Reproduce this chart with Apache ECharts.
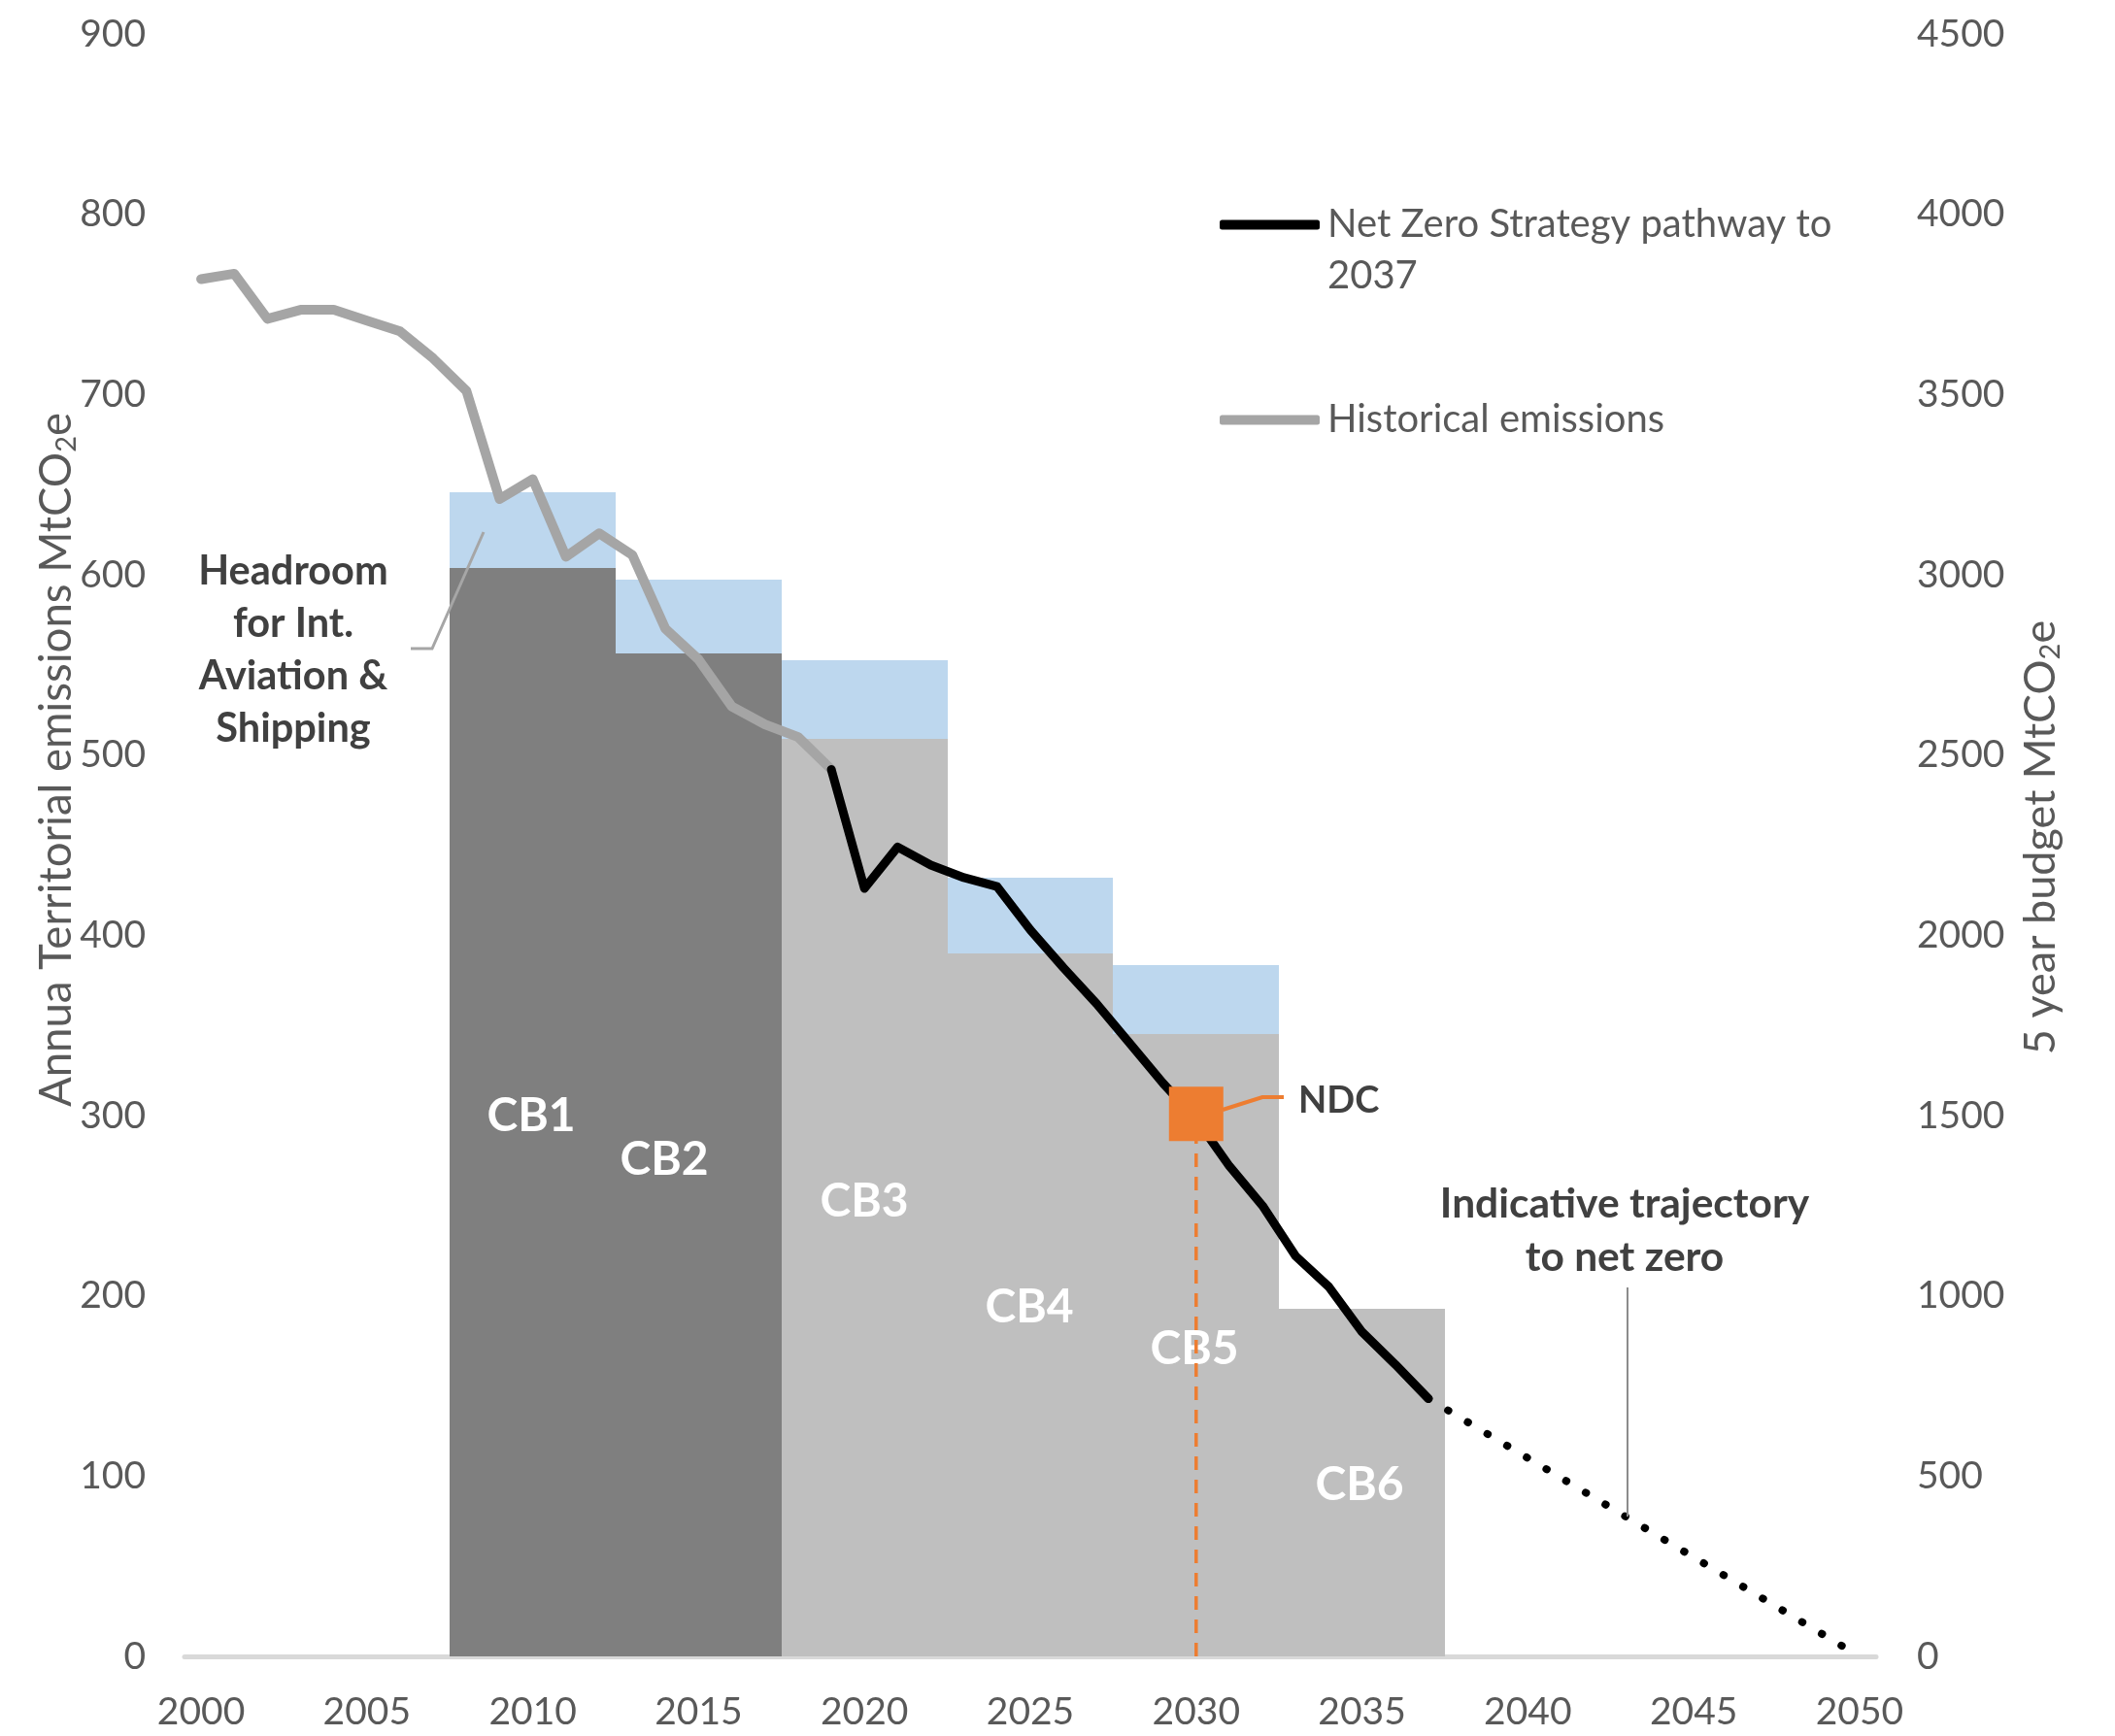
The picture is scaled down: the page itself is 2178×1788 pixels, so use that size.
<!DOCTYPE html>
<html>
<head>
<meta charset="utf-8">
<script src="https://cdn.jsdelivr.net/npm/echarts@6/dist/echarts.min.js"></script>
<style>
  html, body { margin: 0; padding: 0; background: #ffffff; }
  #main { width: 2178px; height: 1788px; }
</style>
</head>
<body>
<div id="main"></div>
<script>
// ---------- DATA ----------
const categories = ['2000','2001','2002','2003','2004','2005','2006','2007','2008','2009',
  '2010','2011','2012','2013','2014','2015','2016','2017','2018','2019',
  '2020','2021','2022','2023','2024','2025','2026','2027','2028','2029',
  '2030','2031','2032','2033','2034','2035','2036','2037','2038','2039',
  '2040','2041','2042','2043','2044','2045','2046','2047','2048','2049','2050'];

const leftTicks = [0, 100, 200, 300, 400, 500, 600, 700, 800, 900];
const rightTicks = [0, 500, 1000, 1500, 2000, 2500, 3000, 3500, 4000, 4500];

// Historical emissions, annual MtCO2e, 2000-2019
const histStartYear = 2000;
const histEmissions = [764, 767, 742, 747, 747, 741, 735, 720, 702, 642,
                       653, 610, 623, 611, 570, 553, 527, 517, 510, 492];

// Net Zero Strategy pathway, 2019-2037
const nzStartYear = 2019;
const nzPathway = [492, 426, 449, 439, 432, 427, 403, 382, 362, 340,
                   318, 298, 272, 250, 222, 205, 180, 162, 143];

// Indicative trajectory to net zero
const indicativeYears = [2037, 2050];
const indicativeValues = [143, 0];

// NDC
const ndcYear = 2030;
const ndcValue = 301;

// Carbon budgets (5-year, MtCO2e, right axis)
const cbNames = ['CB1', 'CB2', 'CB3', 'CB4', 'CB5', 'CB6'];
const cbStart = [2008, 2013, 2018, 2023, 2028, 2033];
const cbEnd = [2012, 2017, 2022, 2027, 2032, 2037];
const cbBudget = [3018, 2782, 2544, 1950, 1725, 965];
const cbHeadroom = [210, 205, 220, 211, 193, 0];

// ---------- STYLE ----------
const FONT = 'Lato';
const TEXT_GREY = '#595959';
const ANNOT = '#404040';
const cbColors = ['#7F7F7F', '#7F7F7F', '#BFBFBF', '#BFBFBF', '#BFBFBF', '#BFBFBF'];
const headroomColor = '#BDD7EE';

// ---------- BUILD SERIES DATA ----------
function yearSeries(startYear, values) {
  return categories.map(c => {
    const i = Number(c) - startYear;
    return (i >= 0 && i < values.length) ? values[i] : null;
  });
}
const histData = yearSeries(histStartYear, histEmissions);
const nzData = yearSeries(nzStartYear, nzPathway);
const indicativeData = indicativeYears.map((y, i) => [String(y), indicativeValues[i]]);
const cbData = cbNames.map((n, i) => [
  categories.indexOf(String(cbStart[i])),
  categories.indexOf(String(cbEnd[i])),
  cbBudget[i], cbHeadroom[i], i
]);

const chart = echarts.init(document.getElementById('main'), null, { renderer: 'canvas', width: 2178, height: 1788 });

const labelStyle = { fontFamily: FONT, fontSize: 39, color: TEXT_GREY };
const plain = v => String(v);

const option = {
  animation: false,
  backgroundColor: '#ffffff',
  grid: { left: 190, right: 246, top: 35, bottom: 82, containLabel: false },
  legend: [
    {
      data: ['Net Zero Strategy pathway to 2037'],
      left: 1256, top: 152, padding: 0, orient: 'vertical',
      icon: 'roundRect', itemWidth: 103, itemHeight: 10, selectedMode: false,
      formatter: () => '\u00a0\nNet Zero Strategy pathway to\n2037',
      textStyle: { fontFamily: FONT, fontSize: 40, color: TEXT_GREY, lineHeight: 53, padding: [0, 0, 0, 3] }
    },
    {
      data: ['Historical emissions'],
      left: 1256, top: 406, padding: 0, orient: 'vertical',
      icon: 'roundRect', itemWidth: 103, itemHeight: 10, selectedMode: false,
      textStyle: { fontFamily: FONT, fontSize: 40, color: TEXT_GREY, lineHeight: 53, padding: [0, 0, 0, 3] }
    }
  ],
  xAxis: {
    type: 'category',
    data: categories,
    boundaryGap: true,
    axisLine: { show: true, lineStyle: { color: '#D9D9D9', width: 5 } },
    axisTick: { show: false },
    axisLabel: Object.assign({ interval: 4, margin: 38 }, labelStyle),
    splitLine: { show: false }
  },
  yAxis: [
    {
      type: 'value', min: leftTicks[0], max: leftTicks[leftTicks.length - 1], interval: 100,
      position: 'left',
      axisLine: { show: false }, axisTick: { show: false }, splitLine: { show: false },
      axisLabel: Object.assign({ margin: 40, formatter: plain }, labelStyle),
      name: 'Annua Territorial emissions MtCO{sub|2}e',
      nameLocation: 'middle', nameGap: 107, nameMoveOverlap: false,
      nameTextStyle: {
        fontFamily: FONT, fontSize: 45.5, color: TEXT_GREY, padding: [0, 0, 0, 176],
        rich: { sub: { fontFamily: FONT, fontSize: 29, color: TEXT_GREY, verticalAlign: 'bottom', lineHeight: 50 } }
      }
    },
    {
      type: 'value', min: rightTicks[0], max: rightTicks[rightTicks.length - 1], interval: 500,
      position: 'right',
      axisLine: { show: false }, axisTick: { show: false }, splitLine: { show: false },
      axisLabel: Object.assign({ margin: 42, formatter: plain }, labelStyle),
      name: '5 year budget MtCO{sub|2}e',
      nameLocation: 'middle', nameGap: 144,
      nameTextStyle: {
        fontFamily: FONT, fontSize: 45, color: TEXT_GREY, padding: [0, 0, 0, 16],
        rich: { sub: { fontFamily: FONT, fontSize: 29, color: TEXT_GREY, verticalAlign: 'bottom', lineHeight: 50 } }
      }
    }
  ],
  series: [
    {
      name: 'Carbon budgets',
      type: 'custom',
      xAxisIndex: 0, yAxisIndex: 1,
      z: 1,
      data: cbData,
      renderItem: function (params, api) {
        const s = api.value(0), e = api.value(1), b = api.value(2), h = api.value(3), k = api.value(4);
        const band = api.size([1, 0])[0];
        const pS = api.coord([s, 0]);
        const pE = api.coord([e, b]);
        const pH = api.coord([e, b + h]);
        const x0 = Math.round(pS[0] - band / 2), x1 = Math.round(pE[0] + band / 2);
        const yB = Math.round(pS[1]), yT = Math.round(pE[1]), yH = Math.round(pH[1]);
        const children = [{
          type: 'rect',
          shape: { x: x0, y: yT, width: x1 - x0, height: yB - yT },
          style: { fill: cbColors[k] }
        }];
        if (h > 0) {
          children.push({
            type: 'rect',
            shape: { x: x0, y: yH, width: x1 - x0, height: yT - yH },
            style: { fill: headroomColor }
          });
        }
        return { type: 'group', children: children };
      }
    },
    {
      name: 'Historical emissions',
      type: 'line', yAxisIndex: 0, z: 3,
      data: histData, showSymbol: false, symbol: 'none',
      color: '#A5A5A5',
      itemStyle: { color: '#A5A5A5' },
      lineStyle: { color: '#A5A5A5', width: 10, join: 'round', cap: 'round' }
    },
    {
      name: 'Net Zero Strategy pathway to 2037',
      type: 'line', yAxisIndex: 0, z: 4,
      data: nzData, showSymbol: false, symbol: 'none',
      color: '#000000',
      itemStyle: { color: '#000000' },
      lineStyle: { color: '#000000', width: 9, join: 'round', cap: 'round' }
    },
    {
      name: 'Indicative trajectory to net zero',
      type: 'line', yAxisIndex: 0, z: 4,
      data: indicativeData, showSymbol: false, symbol: 'none', connectNulls: true,
      lineStyle: { color: '#000000', width: 8, cap: 'round', type: [0.5, 23.1] }
    },
    {
      name: 'NDC drop line',
      type: 'line', yAxisIndex: 0, z: 60,
      data: [[String(ndcYear), 0], [String(ndcYear), ndcValue]],
      showSymbol: false, symbol: 'none',
      lineStyle: { color: '#ED7D31', width: 3.5, type: [14, 10] }
    },
    {
      name: 'NDC',
      type: 'scatter', yAxisIndex: 0, z: 70,
      data: [[String(ndcYear), ndcValue]],
      symbol: 'rect', symbolSize: 56,
      itemStyle: { color: '#ED7D31', opacity: 1 }
    }
  ],
  graphic: [
    // Headroom annotation
    { type: 'text', z: 50, x: 302, y: 670,
      style: { text: 'Headroom\nfor Int.\nAviation &\nShipping', fontFamily: FONT, fontWeight: 'bold', fontSize: 41.5,
               lineHeight: 54, fill: ANNOT, align: 'center', verticalAlign: 'middle' } },
    { type: 'polyline', z: 50,
      shape: { points: [[423, 668], [445, 668], [498, 548]] },
      style: { stroke: '#A6A6A6', lineWidth: 3, fill: null } },
    // NDC annotation
    { type: 'polyline', z: 65,
      shape: { points: [[1259, 1143], [1300, 1130], [1322, 1130]] },
      style: { stroke: '#ED7D31', lineWidth: 4, fill: null } },
    { type: 'text', z: 50, x: 1337, y: 1134,
      style: { text: 'NDC', fontFamily: FONT, fontWeight: 'bold', fontSize: 38, fill: ANNOT, align: 'left', verticalAlign: 'middle' } },
    // Indicative trajectory annotation
    { type: 'text', z: 50, x: 1673, y: 1268,
      style: { text: 'Indicative trajectory\nto net zero', fontFamily: FONT, fontWeight: 'bold', fontSize: 42.5,
               lineHeight: 55, fill: ANNOT, align: 'center', verticalAlign: 'middle' } },
    { type: 'line', z: 50,
      shape: { x1: 1676, y1: 1326, x2: 1676, y2: 1562 },
      style: { stroke: '#8C8C8C', lineWidth: 2 } },
    // CB labels
    { type: 'text', z: 50, x: 547, y: 1150, style: { text: 'CB1', fontFamily: FONT, fontWeight: 'bold', fontSize: 48, fill: '#ffffff', align: 'center', verticalAlign: 'middle' } },
    { type: 'text', z: 50, x: 684, y: 1195, style: { text: 'CB2', fontFamily: FONT, fontWeight: 'bold', fontSize: 48, fill: '#ffffff', align: 'center', verticalAlign: 'middle' } },
    { type: 'text', z: 50, x: 890, y: 1238, style: { text: 'CB3', fontFamily: FONT, fontWeight: 'bold', fontSize: 48, fill: '#ffffff', align: 'center', verticalAlign: 'middle' } },
    { type: 'text', z: 50, x: 1060, y: 1347, style: { text: 'CB4', fontFamily: FONT, fontWeight: 'bold', fontSize: 48, fill: '#ffffff', align: 'center', verticalAlign: 'middle' } },
    { type: 'text', z: 50, x: 1230, y: 1390, style: { text: 'CB5', fontFamily: FONT, fontWeight: 'bold', fontSize: 48, fill: '#ffffff', align: 'center', verticalAlign: 'middle' } },
    { type: 'text', z: 50, x: 1400, y: 1530, style: { text: 'CB6', fontFamily: FONT, fontWeight: 'bold', fontSize: 48, fill: '#ffffff', align: 'center', verticalAlign: 'middle' } }
  ]
};

chart.setOption(option);
</script>
</body>
</html>
